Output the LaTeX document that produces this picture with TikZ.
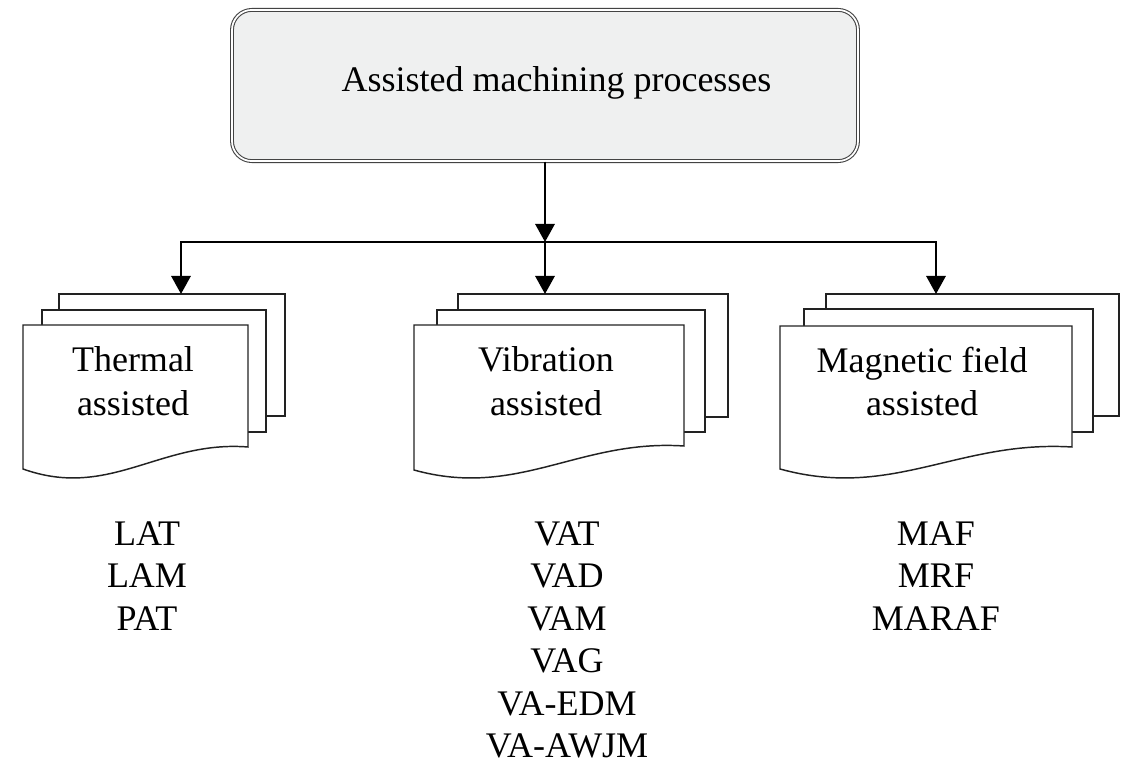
\documentclass[tikz,border=0pt]{standalone}
\usepackage{fontspec}
\setmainfont{Liberation Serif}
\usetikzlibrary{arrows.meta}
\definecolor{boxfill}{HTML}{EFF0F0}
\definecolor{edge}{HTML}{222222}
\tikzset{
  bigfont/.style={font=\fontsize{27}{32.6}\selectfont},
  listfont/.style={font=\fontsize{27}{31.9}\selectfont},
  topbox/.style={draw=edge!85, line width=0.8pt, double=white, double distance=1.3pt,
    fill=boxfill, rounded corners=15pt, inner sep=0pt,
    minimum width=469.5pt, minimum height=113.4pt},
  sheet/.style={draw=edge, line width=1.1pt, fill=white},
  conn/.style={draw=black, line width=1.5pt},
  arr/.style={conn, -{Triangle[length=13.5pt,width=14.5pt]}},
  doclabel/.style={bigfont, align=center, inner sep=0pt, anchor=north},
  listlabel/.style={listfont, align=center, inner sep=0pt, anchor=north},
}
\begin{document}
\begin{tikzpicture}[x=0.75pt, y=-0.75pt]
\useasboundingbox (0,0) rectangle (1122,766);

% top box
\node[topbox] (top) at (545,85.5) {};
\node[bigfont, anchor=base, inner sep=0pt] (toplbl) at (556.5,92) {Assisted machining processes};

% document stacks: Thermal
\draw[sheet] (59,294) rectangle (285,416);
\draw[sheet] (42,310) rectangle (266,432);
\draw[sheet] (23,325) -- (248,325) -- (248,447)
  .. controls (160.25,440) and (109.6,500) .. (23,469) -- cycle;
% Vibration
\draw[sheet] (458,294) rectangle (728,417);
\draw[sheet] (437,310) rectangle (705,432);
\draw[sheet] (414,325) -- (684,325) -- (684,446)
  .. controls (578.7,439) and (518,499) .. (414,470) -- cycle;
% Magnetic field
\draw[sheet] (826,294) rectangle (1119,416);
\draw[sheet] (804,309) rectangle (1093,432);
\draw[sheet] (780,326) -- (1072,326) -- (1072,447)
  .. controls (958,440) and (892.4,500) .. (780,469) -- cycle;

% labels in documents
\node[doclabel] (thermal) at (133,346.5) {Thermal\\assisted};
\node[doclabel] (vibration) at (546,346.5) {Vibration\\assisted};
\node[doclabel] (magnetic) at (922,346.5) {Magnetic field\\assisted};

% connector anchor points
\coordinate (busM) at (545,242);
\coordinate (tT) at (181,294);
\coordinate (tV) at (545,294);
\coordinate (tM) at (936,294);

\draw[arr] (top.south) -- (busM);
\draw[arr] (busM) -| (tT);
\draw[arr] (busM) -| (tM);
\draw[arr] (busM) -- (tV);

% lists
\node[listlabel] (listT) at (147,521) {LAT\\LAM\\PAT};
\node[listlabel] (listV) at (567,521) {VAT\\VAD\\VAM\\VAG\\VA-EDM\\VA-AWJM};
\node[listlabel] (listM) at (936,521) {MAF\\MRF\\MARAF};
\end{tikzpicture}
\end{document}
